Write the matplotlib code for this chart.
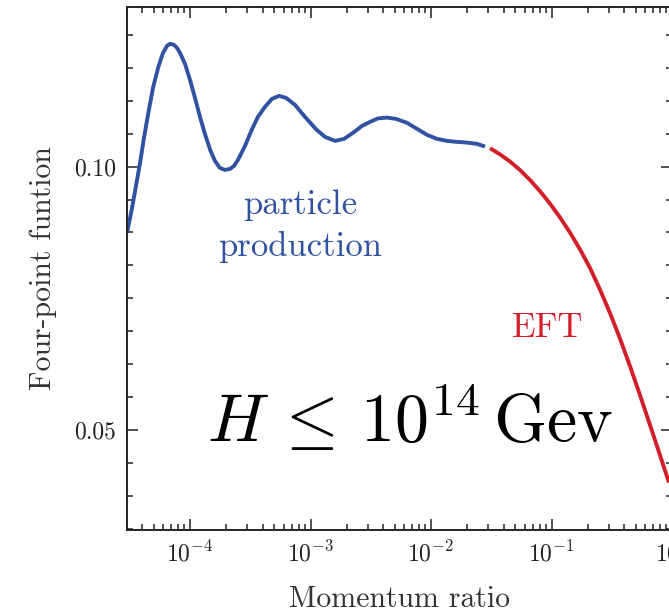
import matplotlib
matplotlib.use("Agg")
import matplotlib.pyplot as plt
from matplotlib.ticker import MultipleLocator, FormatStrFormatter, LogLocator, NullFormatter

plt.rcParams['font.family'] = 'serif'
plt.rcParams['font.serif'] = ['cmr10']
plt.rcParams['mathtext.fontset'] = 'cm'
plt.rcParams['axes.formatter.use_mathtext'] = True

BLUE = '#3052a0'
RED = '#d21f29'

# particle production branch
x_pp = [3.00e-5, 3.28e-5, 3.56e-5, 3.85e-5, 4.15e-5, 4.51e-5, 4.93e-5, 5.46e-5,
        5.97e-5, 6.44e-5, 6.83e-5, 7.36e-5, 7.80e-5, 8.26e-5, 9.09e-5, 1.00e-4,
        1.10e-4, 1.21e-4, 1.33e-4, 1.47e-4, 1.61e-4, 1.77e-4, 1.95e-4, 2.15e-4,
        2.32e-4, 2.50e-4, 2.86e-4, 3.25e-4, 3.66e-4, 4.19e-4, 4.79e-4, 5.48e-4,
        6.26e-4, 7.43e-4, 9.0e-4, 1.125e-3, 1.32e-3, 1.60e-3, 1.90e-3, 2.25e-3,
        2.68e-3, 3.12e-3, 3.63e-3, 4.31e-3, 5.13e-3, 6.33e-3, 7.66e-3, 9.27e-3,
        1.12e-2, 1.36e-2, 1.64e-2, 1.99e-2, 2.41e-2, 2.81e-2]
y_pp = [0.08741, 0.09178, 0.09633, 0.10070, 0.10545, 0.11020, 0.11494, 0.11893,
        0.12159, 0.12292, 0.12330, 0.12311, 0.12254, 0.12159, 0.11950, 0.11646,
        0.11305, 0.10944, 0.10621, 0.10317, 0.10108, 0.09975, 0.09937, 0.09956,
        0.10013, 0.10127, 0.10393, 0.10697, 0.10944, 0.11134, 0.11286, 0.11343,
        0.11305, 0.11172, 0.10944, 0.10697, 0.10564, 0.10488, 0.10526, 0.10640,
        0.10773, 0.10849, 0.10915, 0.10930, 0.10906, 0.10830, 0.10716, 0.10602,
        0.10526, 0.10488, 0.10469, 0.10456, 0.10431, 0.10380]

# EFT branch
x_eft = [3.09e-2, 3.74e-2, 4.53e-2, 5.48e-2, 6.64e-2, 8.04e-2, 9.73e-2, 0.1178,
         0.1426, 0.1726, 0.2089, 0.2525, 0.3057, 0.3700, 0.4479, 0.5420, 0.6561,
         0.7943, 0.944]
y_eft = [0.10349, 0.10232, 0.10095, 0.09934, 0.09744, 0.09531, 0.09295, 0.09033,
         0.08745, 0.08426, 0.08074, 0.07666, 0.07220, 0.06736, 0.06213, 0.05663,
         0.05097, 0.04523, 0.04001]

fig = plt.figure(figsize=(6.69, 6.10), dpi=100)
ax = fig.add_axes([127/669, 80/610, 545/669, 523/610])

ax.plot(x_pp, y_pp, color=BLUE, lw=2.8, solid_capstyle='butt', solid_joinstyle='round')
ax.plot(x_eft, y_eft, color=RED, lw=2.8, solid_capstyle='butt', solid_joinstyle='round')

ax.set_xscale('log')
ax.set_xlim(3.0e-5, 1.0)
ax.set_ylim(0.0310, 0.1303)

ax.yaxis.set_major_locator(MultipleLocator(0.05))
ax.yaxis.set_minor_locator(MultipleLocator(0.00625))
ax.yaxis.set_major_formatter(FormatStrFormatter('%.2f'))
ax.xaxis.set_minor_locator(LogLocator(base=10, subs=range(2, 10), numticks=20))
ax.xaxis.set_minor_formatter(NullFormatter())

ax.tick_params(which='both', direction='in', top=True, right=True, width=1.1,
               labelsize=17, colors='#222222')
ax.tick_params(which='major', length=8, pad=8)
ax.tick_params(which='minor', length=4.5)
for s in ax.spines.values():
    s.set_linewidth(1.4)
    s.set_color('#222222')

ax.set_xlabel('Momentum ratio', fontsize=21.5, labelpad=14, color='#333333')
ax.set_ylabel('Four-point funtion', fontsize=21.5, labelpad=12, color='#333333')

ax.text(8.2e-4, 0.0927, 'particle', color=BLUE, fontsize=25, ha='center', va='center')
ax.text(8.2e-4, 0.0848, 'production', color=BLUE, fontsize=25, ha='center', va='center')
ax.text(0.0935, 0.0694, 'EFT', color=RED, fontsize=25, ha='center', va='center')
ax.text(6.7e-3, 0.0477, r'$H\,\leq\,10^{14}\,$Gev', color='black', fontsize=49,
        ha='center', va='baseline')

fig.savefig('out.png', dpi=100)
